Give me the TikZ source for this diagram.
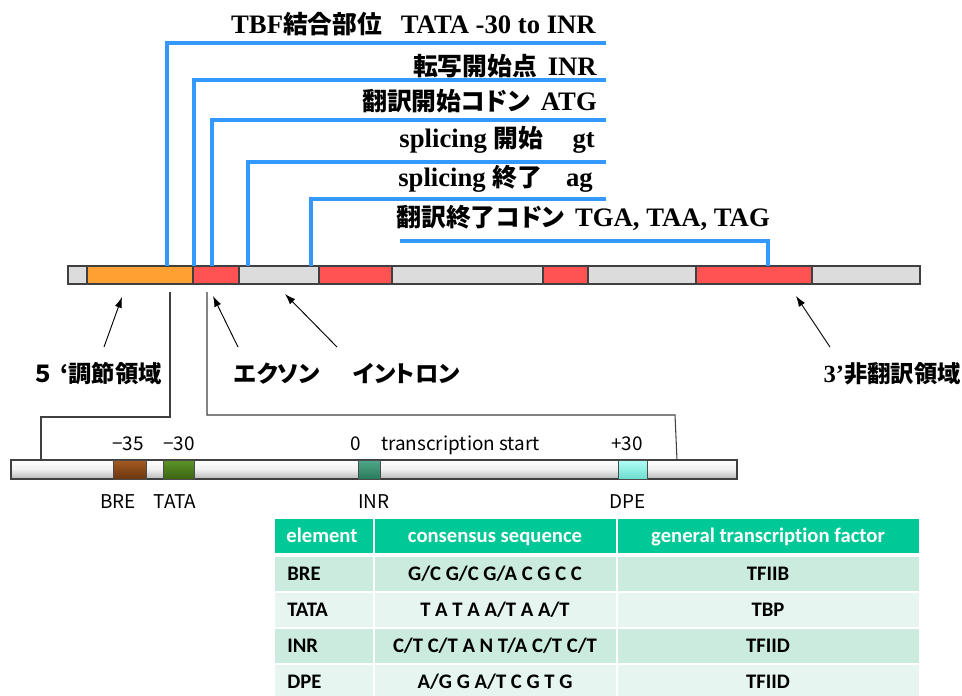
\documentclass[tikz,border=0pt]{standalone}
\usepackage{fontspec}
\setmainfont{Liberation Serif}
\newfontfamily\jp{Noto Sans CJK JP}[Scale=0.93, RawFeature=+palt]
\newfontfamily\jpg{Noto Sans CJK JP}[RawFeature=+palt]
\newfontfamily\tabfont{Carlito}[Ligatures={NoCommon}]
\usetikzlibrary{arrows.meta}
\definecolor{bargray}{HTML}{DCDCDC}
\definecolor{barorange}{HTML}{FFA033}
\definecolor{barred}{HTML}{FF5252}
\definecolor{blueline}{HTML}{3399FF}
\definecolor{conn}{HTML}{404040}
\definecolor{thead}{HTML}{00C896}
\definecolor{trowa}{HTML}{CCEBDF}
\definecolor{trowb}{HTML}{E6F5EF}
\definecolor{brtop}{HTML}{A65A22}
\definecolor{brbot}{HTML}{6A360E}
\definecolor{grtop}{HTML}{5E9428}
\definecolor{grbot}{HTML}{3C6412}
\definecolor{intop}{HTML}{4FA888}
\definecolor{inbot}{HTML}{2A7A5C}
\definecolor{dptop}{HTML}{B0FFF6}
\definecolor{dpbot}{HTML}{6CDCD0}
\tikzset{
  seg/.style={draw=black!75, line width=0.9pt},
  bline/.style={draw=blueline, line width=2.6pt, line join=miter},
  gline/.style={draw=conn, line width=0.8pt},
  arr/.style={draw=black, line width=0.7pt, -{Latex[length=8pt,width=5.5pt]}},
  toplab/.style={inner sep=0pt, font=\fontsize{20}{24}\selectfont\bfseries},
  midlab/.style={inner sep=0pt, font=\fontsize{17.5}{21}\selectfont\jpg\bfseries},
  lowlab/.style={inner sep=0pt, font=\fontsize{14.2}{17}\selectfont\jpg},
  ttext/.style={inner sep=0pt, font=\fontsize{15.5}{18}\selectfont\tabfont\bfseries},
  elem/.style={draw=black!70, line width=0.7pt}
}
\newcommand{\jgap}{\hspace{0.4em}}
\begin{document}
\begin{tikzpicture}[x=0.75pt,y=-0.75pt]
\useasboundingbox (0,0) rectangle (962,695);

% ---------- top gene bar ----------
\foreach \a/\b/\c in {68/87/bargray,87/193/barorange,193/239/barred,239/319/bargray,319/392/barred,392/543/bargray,543/588/barred,588/696/bargray,696/812/barred,812/920/bargray}
  \draw[seg, fill=\c] (\a,266) rectangle (\b,284);

% ---------- blue leader lines ----------
\coordinate (b1) at (167,266); \coordinate (e1) at (606,43);
\coordinate (b2) at (194,266); \coordinate (e2) at (606,80);
\coordinate (b3) at (212,266); \coordinate (e3) at (606,120);
\coordinate (b4) at (248,266); \coordinate (e4) at (606,162);
\coordinate (b5) at (311,266); \coordinate (e5) at (606,199);
\coordinate (b6) at (768,266); \coordinate (e6) at (400,241);
\draw[bline] (b1) |- (e1);
\draw[bline] (b2) |- (e2);
\draw[bline] (b3) |- (e3);
\draw[bline] (b4) |- (e4);
\draw[bline] (b5) |- (e5);
\draw[bline] (b6) |- (e6);

% ---------- top labels ----------
\node[toplab, anchor=base east] (l1) at (596,34) {TBF{\jp 結合部位}\hspace{0.7em}TATA -30 to INR};
\node[toplab, anchor=base east] (l2) at (597,76) {{\jp 転写開始点}\jgap INR};
\node[toplab, anchor=base east] (l3) at (597,111) {{\jp 翻訳開始コドン}\jgap ATG};
\node[toplab, anchor=base east] (l4) at (595,148) {splicing {\jp 開始}\hspace{1.1em}gt};
\node[toplab, anchor=base east] (l5) at (593,187) {splicing {\jp 終了}\hspace{0.9em}ag};
\node[toplab, anchor=base east] (l6) at (770,226) {{\jp 翻訳終了コドン}\jgap TGA, TAA, TAG};

% ---------- middle labels and arrows ----------
\node[midlab, anchor=base west] (m1) at (34,382) {５\hspace{0.35em}‘調節領域};
\node[midlab, anchor=base west] (m2) at (234,382) {エクソン};
\node[midlab, anchor=base west] (m3) at (353,382) {イントロン};
\node[midlab, anchor=base east] (m4) at (961,382) {{\rmfamily\fontsize{18.5}{22}\selectfont 3’}非翻訳領域};

\coordinate (a1s) at (104,347); \coordinate (a1e) at (122,297);
\coordinate (a2s) at (238,347); \coordinate (a2e) at (213,296);
\coordinate (a3s) at (337,347); \coordinate (a3e) at (285,294);
\coordinate (a4s) at (830,347); \coordinate (a4e) at (796,296);
\draw[arr] (a1s) -- (a1e);
\draw[arr] (a2s) -- (a2e);
\draw[arr] (a3s) -- (a3e);
\draw[arr] (a4s) -- (a4e);

% ---------- zoom connectors ----------
\coordinate (z1) at (170,292); \coordinate (z1b) at (41,417); \coordinate (z1e) at (41,460);
\coordinate (z2) at (207,292); \coordinate (z2b) at (675,415); \coordinate (z2e) at (677,460);
\draw[gline] (z1) -- (170,417) -- (z1b) -- (z1e);
\draw[gline] (z2) -- (207,415) -- (z2b) -- (z2e);

% ---------- promoter bar ----------
\shade[top color=white, bottom color=black!28, middle color=black!6, draw=black!75, line width=0.8pt] (11,460) rectangle (737,479);
\shade[elem, top color=brtop, bottom color=brbot] (113,460) rectangle (146,479);
\shade[elem, top color=grtop, bottom color=grbot] (163,460) rectangle (194,479);
\shade[elem, top color=intop, bottom color=inbot] (358,460) rectangle (380,479);
\shade[elem, top color=dptop, bottom color=dpbot] (618,460) rectangle (647,479);

\node[lowlab, anchor=base] (p1) at (128,450) {−35};
\node[lowlab, anchor=base] (p2) at (179,450) {−30};
\node[lowlab, anchor=base] (p3) at (356,450) {0};
\node[lowlab, anchor=base west] (p4) at (381,450) {transcription start};
\node[lowlab, anchor=base] (p5) at (627,450) {+30};
\node[lowlab, anchor=base] (n1) at (118,508) {BRE};
\node[lowlab, anchor=base] (n2) at (175,508) {TATA};
\node[lowlab, anchor=base] (n3) at (374,508) {INR};
\node[lowlab, anchor=base] (n4) at (628,508) {DPE};

% ---------- table ----------
\fill[thead] (275,519) rectangle (373,553);
\fill[thead] (375,519) rectangle (616,553);
\fill[thead] (618,519) rectangle (919,553);
\foreach \t/\bt/\c in {557/591/trowa,593/627/trowb,629/663/trowa,665/699/trowb}{
  \fill[\c] (275,\t) rectangle (373,\bt);
  \fill[\c] (375,\t) rectangle (616,\bt);
  \fill[\c] (618,\t) rectangle (919,\bt);
}
\node[ttext, text=white, anchor=base] (h1) at (322,542) {element};
\node[ttext, text=white, anchor=base] (h2) at (495,542) {consensus sequence};
\node[ttext, text=white, anchor=base] (h3) at (768,542) {general transcription factor};

\node[ttext, anchor=base west] (r1a) at (287,580) {BRE};
\node[ttext, anchor=base] (r1b) at (495,580) {G/C G/C G/A C G C C};
\node[ttext, anchor=base] (r1c) at (768,580) {TFIIB};
\node[ttext, anchor=base west] (r2a) at (287,616) {TATA};
\node[ttext, anchor=base] (r2b) at (495,616) {T A T A A/T A A/T};
\node[ttext, anchor=base] (r2c) at (768,616) {TBP};
\node[ttext, anchor=base west] (r3a) at (287,652) {INR};
\node[ttext, anchor=base] (r3b) at (495,652) {C/T C/T A N T/A C/T C/T};
\node[ttext, anchor=base] (r3c) at (768,652) {TFIID};
\node[ttext, anchor=base west] (r4a) at (287,688) {DPE};
\node[ttext, anchor=base] (r4b) at (495,688) {A/G G A/T C G T G};
\node[ttext, anchor=base] (r4c) at (768,688) {TFIID};
\end{tikzpicture}
\end{document}
